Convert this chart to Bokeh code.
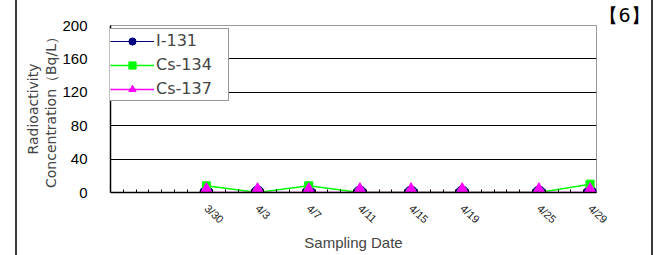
from datetime import date
from bokeh.plotting import figure
from bokeh.models import Range1d, FixedTicker
from bokeh.embed import file_html
from bokeh.resources import INLINE

# ---- data ----
start_day = "3/23"
end_day = "4/29"
dates = ["3/30", "4/3", "4/7", "4/11", "4/15", "4/19", "4/25", "4/29"]
i131 = [0, 0, 0, 0, 0, 0, 0, 0]
cs134 = [8, 0, 8, 0, 0, 0, 0, 10]
cs137 = [0, 0, 0, 0, 0, 0, 0, 0]
y_ticks = [0, 40, 80, 120, 160, 200]
panel_tag = "【6】"


def to_day(s):
    m, d = s.split("/")
    return date(2011, int(m), int(d))


d0 = to_day(start_day)
n_days = (to_day(end_day) - d0).days + 1
xs = [(to_day(s) - d0).days for s in dates]

p = figure(
    frame_width=486, frame_height=167,
    x_range=Range1d(-0.5, n_days - 0.5),
    y_range=Range1d(0, 200),
    output_backend="svg", toolbar_location=None,
    min_border_left=93, min_border_right=55, min_border_top=25, min_border_bottom=63,
    background_fill_color="white", border_fill_color="white",
    outline_line_color="#999999",
    styles={"margin-left": "17px",
            "box-shadow": "-2px 0 0 0 #3a3a3a, 2px 0 0 0 #3a3a3a"},
)

# panel tag as right-aligned title
p.title.text = panel_tag
p.title.align = "right"
p.title.offset = -53
p.title.standoff = 0
p.title.text_font = "DejaVu Sans"
p.title.text_font_size = "19px"
p.title.text_font_style = "normal"
p.title.text_color = "black"

# axes
p.xaxis.ticker = FixedTicker(ticks=xs, minor_ticks=[k + 0.5 for k in range(n_days - 1)])
p.xaxis.major_label_overrides = {x: s for x, s in zip(xs, dates)}
p.xaxis.major_tick_line_color = None
p.xaxis.minor_tick_line_color = "black"
p.xaxis.minor_tick_in = 3
p.xaxis.minor_tick_out = 0
p.xaxis.major_label_orientation = -0.75
p.xaxis.major_label_text_font = "Liberation Sans"
p.xaxis.major_label_text_font_size = "11px"
p.xaxis.major_label_text_color = "#222222"
p.xaxis.major_label_standoff = 8
p.xaxis.axis_label = "Sampling Date"
p.xaxis.axis_label_text_font = "Liberation Sans"
p.xaxis.axis_label_text_font_size = "15px"
p.xaxis.axis_label_text_font_style = "normal"
p.xaxis.axis_label_standoff = 1
p.xaxis.axis_line_color = "black"
p.xaxis.axis_line_width = 1.5

p.yaxis.ticker = FixedTicker(ticks=y_ticks, minor_ticks=[])
p.yaxis.major_tick_line_color = None
p.yaxis.minor_tick_line_color = None
p.yaxis.major_label_text_font = "Liberation Sans"
p.yaxis.major_label_text_font_size = "15px"
p.yaxis.major_label_text_color = "black"
p.yaxis.major_label_standoff = 17
p.yaxis.axis_label = "Radioactivity\nConcentration（Bq/L）"
p.yaxis.axis_label_text_font = "DejaVu Sans"
p.yaxis.axis_label_text_font_size = "14px"
p.yaxis.axis_label_text_font_style = "normal"
p.yaxis.axis_label_text_line_height = 1.15
p.yaxis.axis_label_standoff = 0
p.yaxis.axis_line_color = "black"
p.yaxis.axis_line_width = 1.5

p.xgrid.grid_line_color = None
p.ygrid.grid_line_color = "black"
p.ygrid.grid_line_width = 1

# series
p.line(xs, i131, line_color="#000080", line_width=1.2, legend_label="I-131")
p.scatter(xs, i131, marker="circle", size=13, fill_color="#000080", line_color="#000080",
          legend_label="I-131")
p.line(xs, cs134, line_color="#00FF00", line_width=1.5, legend_label="Cs-134")
p.scatter(xs, cs134, marker="square", size=8, fill_color="#00FF00", line_color="#00FF00",
          legend_label="Cs-134")
p.line(xs, cs137, line_color="#FF00FF", line_width=1.5, legend_label="Cs-137")
p.scatter(xs, cs137, marker="triangle", size=17, fill_color="#FF00FF", line_color="#FF00FF",
          legend_label="Cs-137")

lg = p.legend[0]
lg.location = (-3, 91)
lg.border_line_color = "#333333"
lg.border_line_width = 1
lg.background_fill_color = "white"
lg.background_fill_alpha = 1
lg.label_text_font = "DejaVu Sans"
lg.label_text_font_size = "16px"
lg.glyph_width = 44
lg.glyph_height = 18
lg.label_height = 18
lg.label_width = 70
lg.label_standoff = 2
lg.spacing = 5
lg.padding = 2
lg.margin = 0

open("out.html", "w").write(file_html(p, INLINE))
